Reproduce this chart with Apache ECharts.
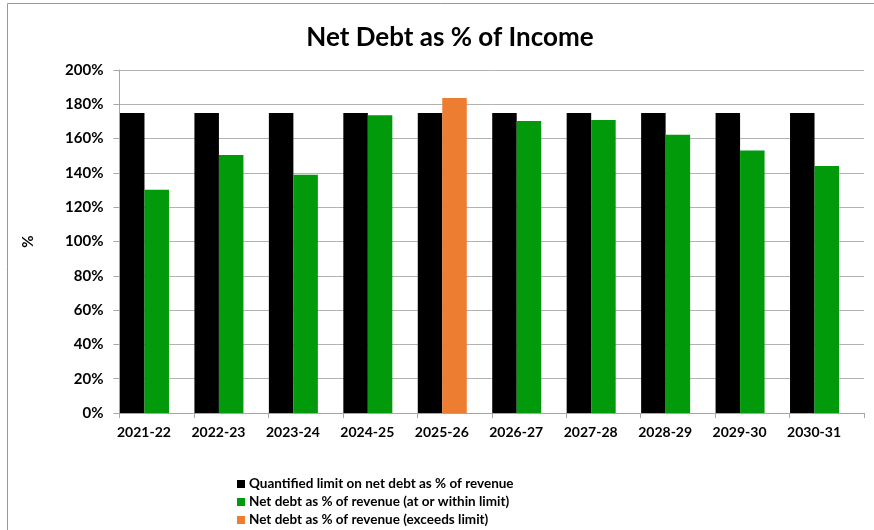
<!DOCTYPE html>
<html>
<head>
<meta charset="utf-8">
<script src="https://cdn.jsdelivr.net/npm/echarts@6/dist/echarts.min.js"></script>
<style>html,body{margin:0;padding:0;background:#fff;}#c{width:874px;height:530px;}</style>
</head>
<body>
<div id="c"></div>
<script>
const categories = ['2021-22','2022-23','2023-24','2024-25','2025-26','2026-27','2027-28','2028-29','2029-30','2030-31'];
const limitValues = [175, 175, 175, 175, 175, 175, 175, 175, 175, 175];
const withinValues = [130.2, 150.5, 138.9, 173.6, null, 170.3, 170.9, 162.2, 153.0, 144.0];
const exceedsValues = [null, null, null, null, 183.7, null, null, null, null, null];
const padValues = [null, null, null, null, null, null, null, null, null, null];
const seriesNames = ['Quantified limit on net debt as % of revenue','Net debt as % of revenue (at or within limit)','Net debt as % of revenue (exceeds limit)'];

const FONT = 'Lato';
const chart = echarts.init(document.getElementById('c'), null, {renderer:'canvas'});
chart.setOption({
  animation: false,
  backgroundColor: '#fff',
  textStyle: {fontFamily: FONT},
  title: {
    text: 'Net Debt as % of Income',
    left: 445, top: 20, textAlign: 'center',
    textStyle: {fontFamily: FONT, fontWeight: 'bold', fontSize: 26, color: '#000'}
  },
  graphic: [
    {type:'line', shape:{x1:7.5,y1:3.5,x2:874,y2:3.5}, style:{stroke:'#999',lineWidth:1}},
    {type:'line', shape:{x1:7.5,y1:3.5,x2:7.5,y2:530}, style:{stroke:'#999',lineWidth:1}}
  ],
  legend: {
    data: seriesNames,
    orient: 'vertical',
    left: 237, top: 477, padding: 0,
    itemWidth: 8, itemHeight: 8, itemGap: 4,
    icon: 'rect',
    textStyle: {fontFamily: FONT, fontSize: 13.5, lineHeight: 14, fontWeight: 'bold', color: '#000', padding:[0,0,0,-1]}
  },
  grid: {left: 119.5, right: 10, top: 70, bottom: 117, containLabel: false},
  xAxis: {
    type: 'category',
    data: categories,
    axisLine: {lineStyle: {color: '#a6a6a6'}},
    axisTick: {show: true, length: 5, lineStyle: {color: '#a6a6a6'}},
    axisLabel: {fontFamily: FONT, fontWeight: 'bold', fontSize: 14, color: '#000', margin: 12, padding: [0, 25.5, 0, 0], interval: 0}
  },
  yAxis: {
    type: 'value',
    min: 0, max: 200, interval: 20,
    name: '%', nameLocation: 'middle', nameGap: 84, nameRotate: 90,
    nameTextStyle: {fontFamily: FONT, fontWeight: 'bold', fontSize: 15, color: '#000'},
    axisLine: {show: true, lineStyle: {color: '#a6a6a6'}},
    axisTick: {show: true, length: 6, lineStyle: {color: '#a6a6a6'}},
    axisLabel: {fontFamily: FONT, fontWeight: 'bold', fontSize: 15, color: '#000', margin: 16, formatter: '{value}%'},
    splitLine: {lineStyle: {color: '#b3b3b3'}}
  },
  series: [
    {name: seriesNames[0], type: 'bar', data: limitValues, barWidth: 24.5, barGap: '0%', itemStyle: {color: '#000000'}},
    {name: seriesNames[1], type: 'bar', stack: 'debt', data: withinValues, barWidth: 24.5, barGap: '0%', itemStyle: {color: '#009a0a'}},
    {name: seriesNames[2], type: 'bar', stack: 'debt', data: exceedsValues, barWidth: 24.5, barGap: '0%', itemStyle: {color: '#ed7d31'}},
    {name: 'pad', type: 'bar', data: padValues, barWidth: 24.5, barGap: '0%', itemStyle: {color: 'transparent'}}
  ]
});
</script>
</body>
</html>
